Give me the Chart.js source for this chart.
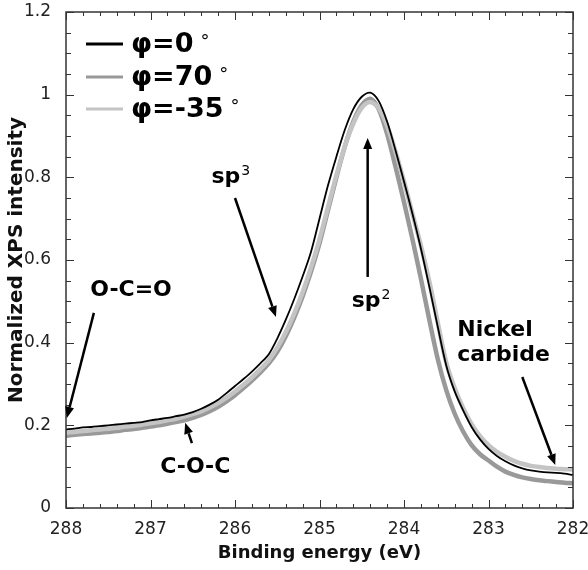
<!DOCTYPE html>
<html>
<head>
<meta charset="utf-8">
<script src="https://cdn.jsdelivr.net/npm/chart.js@4.4.1/dist/chart.umd.min.js"></script>
<style>
  html, body { margin: 0; padding: 0; background: #fff; }
  #wrap { width: 588px; height: 570px; }
</style>
</head>
<body>
<div id="wrap"><canvas id="xps" width="588" height="570"></canvas></div>
<script>
// XPS C1s spectra at three take-off angles
const energies = [
  288.0, 287.9, 287.8, 287.7, 287.6, 287.5, 287.4, 287.3, 287.2, 287.1,
  287.0, 286.9, 286.8, 286.7, 286.6, 286.5, 286.4, 286.3, 286.2, 286.1,
  286.0, 285.9, 285.8, 285.7, 285.6, 285.5, 285.4, 285.3, 285.2, 285.1,
  285.0, 284.9, 284.8, 284.7, 284.6, 284.5, 284.4, 284.3, 284.2, 284.1,
  284.0, 283.9, 283.8, 283.7, 283.6, 283.5, 283.4, 283.3, 283.2, 283.1,
  283.0, 282.9, 282.8, 282.7, 282.6, 282.5, 282.4, 282.3, 282.2, 282.1,
  282.0
];

const phi0 = [
  0.190, 0.192, 0.195, 0.196, 0.198, 0.200, 0.202, 0.204, 0.206, 0.208,
  0.212, 0.215, 0.218, 0.222, 0.226, 0.232, 0.240, 0.250, 0.262, 0.278,
  0.295, 0.312, 0.330, 0.350, 0.372, 0.410, 0.455, 0.505, 0.560, 0.620,
  0.700, 0.780, 0.850, 0.915, 0.965, 0.995, 1.005, 0.985, 0.935, 0.865,
  0.790, 0.712, 0.628, 0.535, 0.438, 0.345, 0.282, 0.236, 0.196, 0.166,
  0.143, 0.126, 0.113, 0.103, 0.096, 0.091, 0.088, 0.086, 0.085, 0.083,
  0.080
];

const phi70 = [
  0.175, 0.177, 0.179, 0.180, 0.182, 0.184, 0.186, 0.189, 0.191, 0.194,
  0.197, 0.200, 0.204, 0.208, 0.212, 0.218, 0.225, 0.234, 0.245, 0.258,
  0.273, 0.290, 0.308, 0.328, 0.350, 0.378, 0.415, 0.460, 0.512, 0.572,
  0.640, 0.720, 0.800, 0.875, 0.935, 0.975, 0.990, 0.965, 0.905, 0.825,
  0.740, 0.650, 0.555, 0.455, 0.360, 0.285, 0.228, 0.185, 0.152, 0.130,
  0.115, 0.100, 0.088, 0.080, 0.074, 0.070, 0.067, 0.065, 0.063, 0.061,
  0.060
];

const phiM35 = [
  0.182, 0.184, 0.186, 0.188, 0.190, 0.192, 0.194, 0.197, 0.199, 0.202,
  0.205, 0.208, 0.212, 0.216, 0.221, 0.227, 0.234, 0.243, 0.254, 0.267,
  0.282, 0.298, 0.316, 0.336, 0.358, 0.388, 0.425, 0.470, 0.522, 0.582,
  0.650, 0.728, 0.805, 0.875, 0.930, 0.968, 0.982, 0.968, 0.925, 0.862,
  0.790, 0.712, 0.635, 0.548, 0.448, 0.352, 0.290, 0.242, 0.203, 0.174,
  0.152, 0.136, 0.124, 0.114, 0.107, 0.102, 0.099, 0.097, 0.095, 0.094,
  0.093
];

const seriesNames = ['φ=0', 'φ=70', 'φ=-35'];
const seriesColors = ['#000000', '#999999', '#c4c4c4'];
const seriesWidths = [1.8, 4.5, 4.5];

// annotations, anchored in data coordinates (eV, intensity)
const notes = [
  { lines: ['sp'], sup: '3', at: [286.05, 0.80], from: [286.00, 0.750], to: [285.515, 0.462] },
  { lines: ['sp'], sup: '2', at: [284.39, 0.50], from: [284.43, 0.559], to: [284.43, 0.895] },
  { lines: ['O-C=O'], at: [287.23, 0.527], from: [287.67, 0.472], to: [287.99, 0.218] },
  { lines: ['C-O-C'], at: [286.47, 0.099], from: [286.51, 0.157], to: [286.59, 0.206] },
  { lines: ['Nickel', 'carbide'], align: 'left', at: [283.37, 0.431], from: [282.60, 0.317], to: [282.21, 0.104] }
];

const FONT = "'DejaVu Sans', sans-serif";

function toPoints(ys) {
  return energies.map((e, i) => ({ x: e, y: ys[i] }));
}

function arrow(ctx, x1, y1, x2, y2) {
  const ang = Math.atan2(y2 - y1, x2 - x1);
  const head = 11, half = 4.5;
  const bx = x2 - head * Math.cos(ang), by = y2 - head * Math.sin(ang);
  ctx.beginPath();
  ctx.moveTo(x1, y1);
  ctx.lineTo(bx, by);
  ctx.lineWidth = 2.5;
  ctx.strokeStyle = '#000';
  ctx.stroke();
  ctx.beginPath();
  ctx.moveTo(x2, y2);
  ctx.lineTo(bx + half * Math.sin(ang), by - half * Math.cos(ang));
  ctx.lineTo(bx - half * Math.sin(ang), by + half * Math.cos(ang));
  ctx.closePath();
  ctx.fillStyle = '#000';
  ctx.fill();
}

const decor = {
  id: 'decor',
  afterDatasetsDraw(chart) {
    const { ctx, chartArea: a, scales: { x, y } } = chart;
    ctx.save();

    // frame
    ctx.strokeStyle = '#333';
    ctx.lineWidth = 1.5;
    ctx.strokeRect(a.left, a.top, a.right - a.left, a.bottom - a.top);

    // inward ticks on all four sides
    ctx.lineWidth = 1;
    ctx.beginPath();
    for (let k = 0; k <= 30; k++) {
      const v = 282 + k * 0.2;
      const px = Math.round(x.getPixelForValue(v)) + 0.5;
      const len = k % 5 === 0 ? 8 : 4;
      ctx.moveTo(px, a.bottom); ctx.lineTo(px, a.bottom - len);
      ctx.moveTo(px, a.top); ctx.lineTo(px, a.top + len);
    }
    for (let k = 0; k <= 24; k++) {
      const v = k * 0.05;
      const py = Math.round(y.getPixelForValue(v)) + 0.5;
      const len = k % 4 === 0 ? 8 : 5;
      ctx.moveTo(a.left, py); ctx.lineTo(a.left + len, py);
      ctx.moveTo(a.right, py); ctx.lineTo(a.right - len, py);
    }
    ctx.stroke();

    // legend
    const rows = [44, 77, 109];
    seriesNames.forEach((name, i) => {
      ctx.beginPath();
      ctx.moveTo(86, rows[i]);
      ctx.lineTo(123, rows[i]);
      ctx.strokeStyle = seriesColors[i];
      ctx.lineWidth = 3;
      ctx.stroke();
      ctx.fillStyle = '#000';
      ctx.textBaseline = 'middle';
      ctx.textAlign = 'left';
      ctx.font = 'bold 27px ' + FONT;
      ctx.fillText(name, 131, rows[i] + 1);
      const w = ctx.measureText(name).width;
      ctx.font = '18px ' + FONT;
      ctx.fillText('°', 131 + w + 7, rows[i] - 2);
    });

    // annotations
    notes.forEach(n => {
      const tx = x.getPixelForValue(n.at[0]);
      const ty = y.getPixelForValue(n.at[1]);
      ctx.fillStyle = '#000';
      ctx.textBaseline = 'middle';
      ctx.font = 'bold 22px ' + FONT;
      if (n.sup) {
        const w1 = ctx.measureText(n.lines[0]).width;
        ctx.font = '14px ' + FONT;
        const w2 = ctx.measureText(n.sup).width;
        const left = tx - (w1 + w2 + 1) / 2;
        ctx.textAlign = 'left';
        ctx.font = 'bold 22px ' + FONT;
        ctx.fillText(n.lines[0], left, ty);
        ctx.font = '14px ' + FONT;
        ctx.fillText(n.sup, left + w1 + 1, ty - 6);
      } else {
        ctx.textAlign = n.align || 'center';
        n.lines.forEach((ln, j) => ctx.fillText(ln, tx, ty + j * 25));
      }
      arrow(ctx,
        x.getPixelForValue(n.from[0]), y.getPixelForValue(n.from[1]),
        x.getPixelForValue(n.to[0]), y.getPixelForValue(n.to[1]));
    });

    ctx.restore();
  }
};

new Chart(document.getElementById('xps'), {
  type: 'line',
  data: {
    datasets: [
      { label: seriesNames[0], data: toPoints(phi0), order: 1 },
      { label: seriesNames[1], data: toPoints(phi70), order: 3 },
      { label: seriesNames[2], data: toPoints(phiM35), order: 2 }
    ].map((d, i) => Object.assign(d, {
      borderColor: seriesColors[i],
      borderWidth: seriesWidths[i],
      pointRadius: 0,
      fill: false,
      tension: 0.3
    }))
  },
  options: {
    responsive: false,
    animation: false,
    layout: { padding: { top: 12, right: 15, left: 0, bottom: 0 } },
    plugins: { legend: { display: false }, tooltip: { enabled: false } },
    scales: {
      x: {
        type: 'linear',
        reverse: true,
        min: 282,
        max: 288,
        grid: { display: false },
        border: { display: false },
        ticks: { stepSize: 1, color: '#222', padding: 3, font: { family: FONT, size: 17 } },
        title: {
          display: true,
          text: 'Binding energy (eV)',
          color: '#111',
          padding: { top: 2, bottom: 6 },
          font: { family: FONT, size: 18, weight: 'bold' }
        },
        afterFit(scale) {
          scale.height = 62;
          scale.paddingLeft = 0;
          scale.paddingRight = 0;
        }
      },
      y: {
        min: 0,
        max: 1.2,
        grid: { display: false },
        border: { display: false },
        ticks: {
          stepSize: 0.2,
          color: '#222',
          padding: 7,
          font: { family: FONT, size: 17 },
          callback: v => String(Math.round(v * 10) / 10)
        },
        title: {
          display: true,
          text: 'Normalized XPS intensity',
          color: '#111',
          padding: { top: 5, bottom: 2 },
          font: { family: FONT, size: 20, weight: 'bold' }
        },
        afterFit(scale) {
          scale.width = 66;
          scale.paddingTop = 0;
          scale.paddingBottom = 0;
        }
      }
    }
  },
  plugins: [decor]
});
</script>
</body>
</html>
